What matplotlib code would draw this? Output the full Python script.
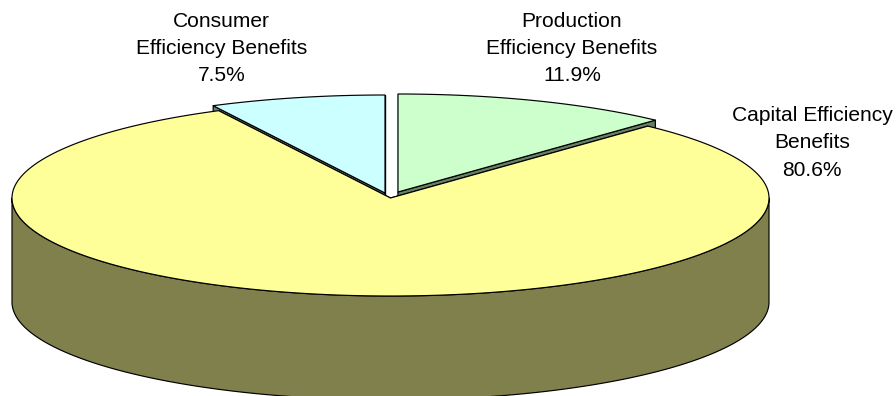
import numpy as np
import matplotlib
matplotlib.use("Agg")
import matplotlib.pyplot as plt
from matplotlib.patches import Polygon

# Share of total benefits, clockwise from twelve o'clock
names = ["Production\nEfficiency Benefits", "Capital Efficiency\nBenefits", "Consumer\nEfficiency Benefits"]
shares = [11.9, 80.6, 7.5]

top_colors = ["#CCFFCC", "#FFFF99", "#CCFFFF"]
side_colors = ["#668066", "#80804D", "#668080"]

# Drawing geometry, in pixels
RX, RY, DEPTH = 378.5, 98.0, 104.0
apexes = [(398.0, 192.0), (390.5, 198.0), (385.0, 193.0)]
label_xy = [(572, 48.5), (812, 143), (221.5, 48.5)]
draw_order = [0, 2, 1]
EDGE = dict(edgecolor="black", linewidth=0.85, joinstyle="round")

plt.rcParams["font.family"] = ["Liberation Sans", "DejaVu Sans"]
fig = plt.figure(figsize=(8.96, 3.96), dpi=100, facecolor="white")
ax = fig.add_axes([0, 0, 1, 1])
ax.set_xlim(0, 896)
ax.set_ylim(396, 0)
ax.axis("off")


def rim(apex, start, stop):
    """Points on the elliptical rim between two clockwise angles from the top."""
    t = np.radians(np.linspace(start, stop, max(int(abs(stop - start) * 2), 2)))
    return np.column_stack((apex[0] + RX * np.sin(t), apex[1] - RY * np.cos(t)))


def draw_slice(start, stop, apex, top, side):
    arc = rim(apex, start, stop)
    drop = np.array([0.0, DEPTH])
    centre = np.array(apex)

    # Cut faces running from the centre out to the rim
    for end in (arc[0], arc[-1]):
        face = [centre, end, end + drop, centre + drop]
        ax.add_patch(Polygon(face, facecolor=side, **EDGE))

    # Outer wall, only where the rim faces the viewer
    lo, hi = max(start, 90.0), min(stop, 270.0)
    if lo < hi:
        wall = rim(apex, lo, hi)
        ax.add_patch(Polygon(np.vstack((wall, (wall + drop)[::-1])), facecolor=side, **EDGE))

    ax.add_patch(Polygon(np.vstack((centre, arc)), facecolor=top, **EDGE))


edges = np.concatenate(([0.0], np.cumsum(shares))) / np.sum(shares) * 360.0
for i in draw_order:
    draw_slice(edges[i], edges[i + 1], apexes[i], top_colors[i], side_colors[i])

for name, share, (x, y) in zip(names, shares, label_xy):
    ax.text(x, y, f"{name}\n{share:.1f}%", ha="center", va="center",
            fontsize=15.1, color="black", linespacing=1.56)

fig.savefig("out.png", dpi=100, facecolor="white")
